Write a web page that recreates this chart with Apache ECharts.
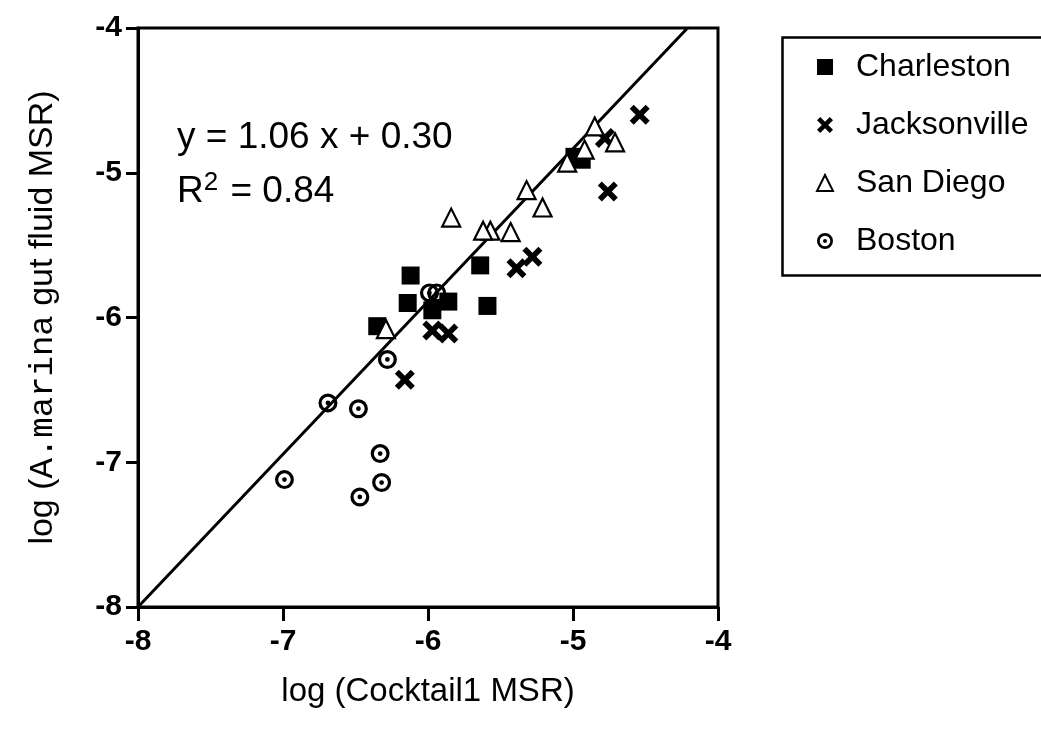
<!DOCTYPE html>
<html>
<head>
<meta charset="utf-8">
<script src="https://cdn.jsdelivr.net/npm/echarts@6/dist/echarts.min.js"></script>
<style>
  html, body { margin: 0; padding: 0; background: #fff; }
  #chart { width: 1041px; height: 733px; }
</style>
</head>
<body>
<div id="chart"></div>
<script>
// values: [log Cocktail1 MSR, log A.marina gut fluid MSR]
var charleston = [
  [-6.12, -5.71], [-6.14, -5.90], [-6.35, -6.06], [-5.97, -5.95],
  [-5.86, -5.89], [-5.64, -5.64], [-5.59, -5.92], [-4.99, -4.89],
  [-4.94, -4.91]
]
var jacksonville = [
  [-4.54, -4.60], [-4.78, -4.76], [-4.76, -5.13], [-5.28, -5.58],
  [-5.39, -5.66], [-5.97, -6.09], [-5.86, -6.11], [-6.16, -6.43]
]
var sanDiego = [
  [-4.85, -4.68], [-4.71, -4.79], [-4.92, -4.84], [-5.04, -4.93],
  [-5.32, -5.12], [-5.21, -5.24], [-5.43, -5.41], [-5.57, -5.40],
  [-5.62, -5.40], [-5.84, -5.31], [-6.29, -6.08]
]
var boston = [
  [-5.99, -5.83], [-5.94, -5.83], [-6.28, -6.29], [-6.69, -6.59],
  [-6.48, -6.63], [-6.33, -6.94], [-6.32, -7.14], [-6.47, -7.24],
  [-6.99, -7.12]
]
// fitted line ends, as drawn
var fitX = [-8, -4.21]
var fitY = [-8, -4]
var axisTicks = [-8, -7, -6, -5, -4]

var crossPath = 'path://M2,0 L5,3 L8,0 L10,2 L7,5 L10,8 L8,10 L5,7 L2,10 L0,8 L3,5 L0,2 Z'
var ringPath = 'path://M10,0 A10,10 0 1,1 10,20 A10,10 0 1,1 10,0 Z M10,3.4 A6.6,6.6 0 1,0 10,16.6 A6.6,6.6 0 1,0 10,3.4 Z M10,7.5 A2.5,2.5 0 1,1 10,12.5 A2.5,2.5 0 1,1 10,7.5 Z'

var chart = echarts.init(document.getElementById('chart'))
var font = 'Liberation Sans, Arial, sans-serif'

chart.setOption({
  animation: false,
  backgroundColor: '#fff',
  textStyle: { fontFamily: font, color: '#000' },
  grid: {
    left: 138, top: 28, right: 323, bottom: 126,
    show: true, borderColor: '#000', borderWidth: 3
  },
  xAxis: {
    type: 'value', min: -8, max: -4, interval: 1,
    name: 'log (Cocktail1 MSR)',
    nameLocation: 'middle', nameGap: 68,
    nameTextStyle: { fontSize: 33, color: '#000', fontFamily: font },
    axisLine: { lineStyle: { color: '#000', width: 3 } },
    axisTick: { show: true, length: 14, lineStyle: { color: '#000', width: 3 } },
    axisLabel: {
      fontSize: 30, fontWeight: 'bold', color: '#000', margin: 20,
      formatter: function (v) { return axisTicks.indexOf(v) >= 0 ? String(v) : '' }
    },
    splitLine: { show: false }
  },
  yAxis: {
    type: 'value', min: -8, max: -4, interval: 1,
    name: 'log ({m|A.marina} gut fluid MSR)',
    nameLocation: 'middle', nameGap: 78,
    nameTextStyle: {
      fontSize: 34, color: '#000', fontFamily: font,
      rich: { m: { fontSize: 34, fontFamily: 'Liberation Mono, monospace', color: '#000' } }
    },
    axisLine: { lineStyle: { color: '#000', width: 3 } },
    axisTick: { show: true, length: 12, lineStyle: { color: '#000', width: 3 } },
    axisLabel: { fontSize: 30, fontWeight: 'bold', color: '#000', margin: 16 },
    splitLine: { show: false }
  },
  legend: {
    data: ['Charleston', 'Jacksonville', 'San Diego', 'Boston'],
    orient: 'vertical', left: 811, top: 46,
    itemWidth: 16, itemHeight: 16, itemGap: 26,
    textStyle: { fontSize: 32, color: '#000', fontFamily: font, padding: [0, 0, 0, 18] }
  },
  graphic: [
    {
      type: 'rect', left: 780, top: 35,
      shape: { width: 300, height: 238 },
      style: { fill: 'none', stroke: '#000', lineWidth: 2.5 }
    },
    {
      type: 'text', left: 177, top: 119,
      style: { text: 'y = 1.06 x + 0.30', font: '37px ' + font, fill: '#000' }
    },
    {
      type: 'text', left: 177, top: 170,
      style: {
        text: 'R{s|2} = 0.84', font: '37px ' + font, fill: '#000',
        rich: { s: { fontSize: 26, fontFamily: font, padding: [0, 2, 18, 0] } }
      }
    }
  ],
  series: [
    {
      name: 'fit', type: 'line', data: fitX.map(function (x, i) { return [x, fitY[i]] }),
      symbol: 'none', lineStyle: { color: '#000', width: 3 }, z: 1, silent: true
    },
    {
      name: 'Charleston', type: 'scatter', data: charleston,
      symbol: 'rect', symbolSize: 18, itemStyle: { color: '#000', opacity: 1 }
    },
    {
      name: 'Jacksonville', type: 'scatter', data: jacksonville,
      symbol: crossPath, symbolSize: 20, itemStyle: { color: '#000', opacity: 1 }
    },
    {
      name: 'San Diego', type: 'scatter', data: sanDiego,
      symbol: 'triangle', symbolSize: 18,
      itemStyle: { color: '#fff', borderColor: '#000', borderWidth: 2.2, opacity: 1 }
    },
    {
      name: 'Boston', type: 'scatter', data: boston,
      symbol: ringPath, symbolSize: 19, itemStyle: { color: '#000', opacity: 1 }
    }
  ]
})
</script>
</body>
</html>
